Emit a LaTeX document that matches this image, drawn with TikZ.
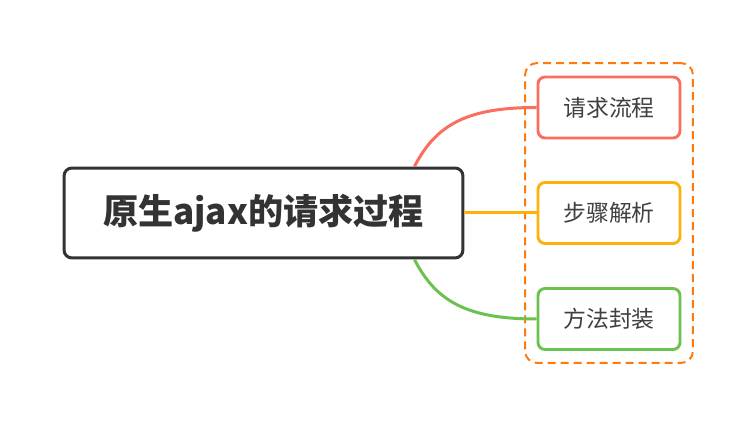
\documentclass[tikz,border=0pt]{standalone}
\usepackage{fontspec}
\newfontfamily\cjk{Noto Sans CJK SC}
\usetikzlibrary{calc}
\definecolor{ink}{HTML}{333333}
\definecolor{txt}{HTML}{404040}
\definecolor{cred}{HTML}{FA6E5F}
\definecolor{cyel}{HTML}{FFB10A}
\definecolor{cgrn}{HTML}{6CC24F}
\definecolor{cgrp}{HTML}{FF7A0A}

\begin{document}
\begin{tikzpicture}[x=0.02cm,y=-0.02cm,
 root/.style={draw=ink,line width=0.06cm,rounded corners=0.16cm,fill=white,
  minimum width=7.98cm,minimum height=1.8cm,inner sep=0pt,
  font=\cjk\bfseries\fontsize{20pt}{22pt}\selectfont,text=ink},
 leaf/.style={line width=0.058cm,rounded corners=0.14cm,fill=white,
  minimum width=2.84cm,minimum height=1.22cm,inner sep=0pt,
  font=\cjk\fontsize{13pt}{15pt}\selectfont,text=txt},
 grp/.style={draw=cgrp,line width=0.04cm,dash pattern=on 0.16cm off 0.1cm,
  rounded corners=0.24cm,minimum width=3.36cm,minimum height=6cm},
 br/.style={line width=0.06cm}]
\useasboundingbox (0,0) rectangle (755,425);
\node[grp] (grp) at (609,213) {};
\node[root] (main) at (263.5,213) {原生ajax的请求过程};
\node[leaf,draw=cred] (s1) at (609,107.5) {请求流程};
\node[leaf,draw=cyel] (s2) at (609,213) {步骤解析};
\node[leaf,draw=cgrn] (s3) at (609,319) {方法封装};
\draw[br,cred] ($(main.north east)+(-50,0)$) .. controls +(22,-43) and +(-68,0) .. (s1.west);
\draw[br,cyel] (main.east) -- (s2.west);
\draw[br,cgrn] ($(main.south east)+(-50,0)$) .. controls +(22,43) and +(-68,0) .. (s3.west);
\end{tikzpicture}
\end{document}
